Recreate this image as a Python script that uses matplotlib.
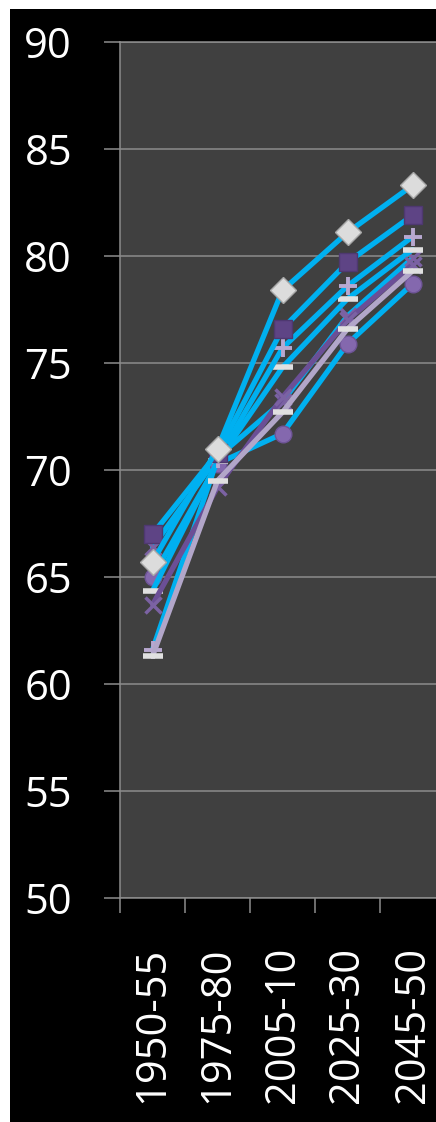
import matplotlib
matplotlib.use("Agg")
import matplotlib.pyplot as plt
from matplotlib.patches import Rectangle

categories = ["1950-55", "1975-80", "2005-10", "2025-30", "2045-50"]

s_diamond = [65.7, 71.0, 78.4, 81.1, 83.3]
s_square = [67.0, 70.8, 76.6, 79.7, 81.9]
s_plus = [61.6, 70.5, 75.7, 78.6, 80.9]
s_minus_a = [64.35, 70.4, 74.8, 78.0, 80.3]
s_x_a = [66.4, 70.6, 73.2, 77.2, 79.9]
s_x_b = [63.7, 69.2, 73.4, 77.0, 79.6]
s_minus_b = [61.3, 69.5, 72.7, 76.6, 79.3]
s_circle = [65.0, 70.3, 71.7, 75.9, 78.7]

yticks = [50, 55, 60, 65, 70, 75, 80, 85, 90]

CYAN = "#00B0F0"
PURPLE = "#6B4F96"
LAVENDER = "#B2A6C9"

W, H = 436, 1122
fig = plt.figure(figsize=(W / 100, H / 100), dpi=100, facecolor="white")
fig.patches.append(Rectangle((10 / W, 0), 1, (H - 9) / H, transform=fig.transFigure,
                             facecolor="black", edgecolor="none", zorder=-10))

left, right, top, bottom = 120, 445, 42, 898
ax = fig.add_axes([left / W, (H - bottom) / H, (right - left) / W, (bottom - top) / H])
ax.set_zorder(5)
ax.set_facecolor("#404040")

x = list(range(len(categories)))
lw = 3.8

series = [
    (s_x_a, CYAN, dict(marker="x", ms=11, mew=2.5, mfc="#7B62A3", mec="#7B62A3")),
    (s_circle, CYAN, dict(marker="o", ms=12, mfc="#8468AE", mec="#6E5497", mew=1)),
    (s_minus_a, CYAN, dict(marker="_", ms=14, mew=4, mfc="#E0E0E0", mec="#E0E0E0")),
    (s_plus, CYAN, dict(marker="+", ms=13, mew=2.8, mfc="#B8A8D0", mec="#B8A8D0")),
    (s_square, CYAN, dict(marker="s", ms=13, mfc="#5E4485", mec="#4E3870", mew=1)),
    (s_diamond, CYAN, dict(marker="D", ms=13, mfc="#DCDCDC", mec="#A8A8A8", mew=1)),
    (s_x_b, PURPLE, dict(marker="x", ms=12, mew=2.5, mfc="#7B62A3", mec="#7B62A3")),
    (s_minus_b, LAVENDER, dict(marker="_", ms=14, mew=4, mfc="#E0E0E0", mec="#E0E0E0")),
]
for i, (vals, col, mk) in enumerate(series):
    ax.plot(x, vals, color=col, lw=lw, solid_capstyle="round", zorder=3 + i, **mk)

ax.set_xlim(-0.5, len(categories) - 0.5)
ax.set_ylim(50, 90)
ax.set_yticks(yticks)
ax.set_yticklabels([str(v) for v in yticks])
ax.yaxis.grid(True, color="#8C8C8C", lw=1.1)
ax.set_axisbelow(True)

ax.set_xticks([i - 0.5 for i in range(len(categories) + 1)])
ax.set_xticklabels([])
ax.set_xticks(x, minor=True)
ax.set_xticklabels(categories, minor=True, rotation=90)
ax.tick_params(axis="x", which="minor", length=0, pad=35)
ax.tick_params(axis="x", which="major", length=10.8, width=1.1, color="#8C8C8C")
ax.tick_params(axis="y", length=11.5, width=1.1, color="#8C8C8C", pad=23)

for lab in ax.get_yticklabels() + ax.get_xticklabels(minor=True):
    lab.set_fontfamily("Open Sans")
    lab.set_fontsize(30)
    lab.set_color("white")

ax.spines["right"].set_visible(False)
for side in ["left", "bottom", "top"]:
    ax.spines[side].set_color("#8C8C8C")
    ax.spines[side].set_linewidth(1.1)

fig.savefig("out.png", dpi=100, facecolor=fig.get_facecolor())
